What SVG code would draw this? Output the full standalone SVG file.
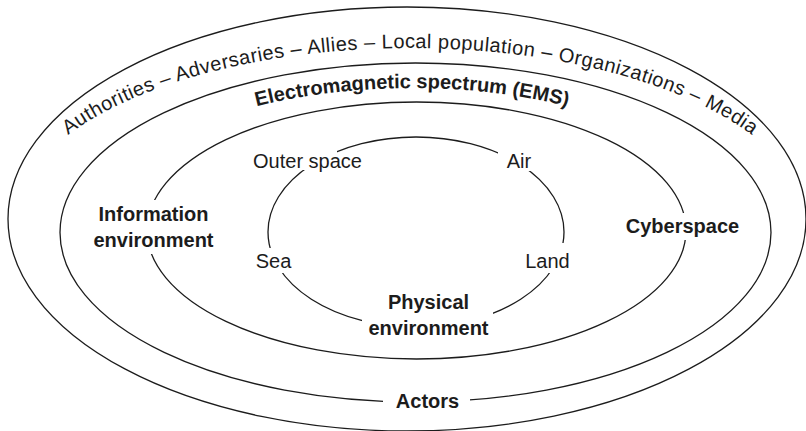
<svg xmlns="http://www.w3.org/2000/svg" width="806" height="431" viewBox="0 0 806 431">
  <style>
    .ring { fill: none; stroke: #1c1c1c; stroke-width: 1.3; }
    .lbl { font-family: "Liberation Sans", Arial, sans-serif; font-size: 20px; fill: #1c1c1c; text-anchor: middle; }
    .b { font-weight: bold; }
  </style>
  <defs>
    <!-- baseline arcs for the curved band captions -->
    <path id="actorsArc" d="M 12,226 A 398,178 0 0 1 808,226"/>
    <path id="emsArc" d="M 94,232 A 318,144 0 0 1 730,232"/>
    <!-- gaps cut into the rings where the labels sit -->
    <mask id="labelGaps" maskUnits="userSpaceOnUse" x="0" y="0" width="806" height="431">
      <rect x="0" y="0" width="806" height="431" fill="#fff"/>
      <rect x="383" y="388" width="87" height="28" fill="#000"/>
      <rect x="88" y="200" width="134" height="54" fill="#000"/>
      <rect x="612" y="213" width="140" height="27" fill="#000"/>
      <rect x="240" y="140" width="97" height="30" fill="#000"/>
      <rect x="498" y="140" width="62" height="31" fill="#000"/>
      <rect x="250" y="248" width="50" height="25" fill="#000"/>
      <rect x="520" y="243" width="55" height="30" fill="#000"/>
      <rect x="362" y="290" width="131" height="55" fill="#000"/>
    </mask>
  </defs>

  <g id="connectors" mask="url(#labelGaps)">
    <ellipse class="ring" cx="407" cy="219" rx="399" ry="212"/>
    <ellipse class="ring" cx="415.5" cy="232.5" rx="355.5" ry="169.5"/>
    <ellipse class="ring" cx="416.5" cy="230.5" rx="269.5" ry="128.5"/>
    <ellipse class="ring" cx="416" cy="232" rx="148" ry="95"/>
  </g>

  <g id="actors-band">
    <text class="lbl"><textPath href="#actorsArc" startOffset="50%" textLength="716" lengthAdjust="spacing">Authorities – Adversaries – Allies – Local population – Organizations – Media</textPath></text>
  </g>
  <g id="actors">
    <text class="lbl b" x="427.5" y="408">Actors</text>
  </g>
  <g id="ems">
    <text class="lbl b"><textPath href="#emsArc" startOffset="50%">Electromagnetic spectrum (EMS)</textPath></text>
  </g>
  <g id="information-environment">
    <text class="lbl b" x="153.5" y="221">Information</text>
    <text class="lbl b" x="153.5" y="247">environment</text>
  </g>
  <g id="cyberspace">
    <text class="lbl b" x="682.5" y="233">Cyberspace</text>
  </g>
  <g id="physical-environment">
    <text class="lbl b" x="428.5" y="309">Physical</text>
    <text class="lbl b" x="428.5" y="335">environment</text>
  </g>
  <g id="outer-space">
    <text class="lbl" x="307.5" y="168">Outer space</text>
  </g>
  <g id="air">
    <text class="lbl" x="519" y="168">Air</text>
  </g>
  <g id="sea">
    <text class="lbl" x="273.5" y="268">Sea</text>
  </g>
  <g id="land">
    <text class="lbl" x="547.5" y="268">Land</text>
  </g>
</svg>
